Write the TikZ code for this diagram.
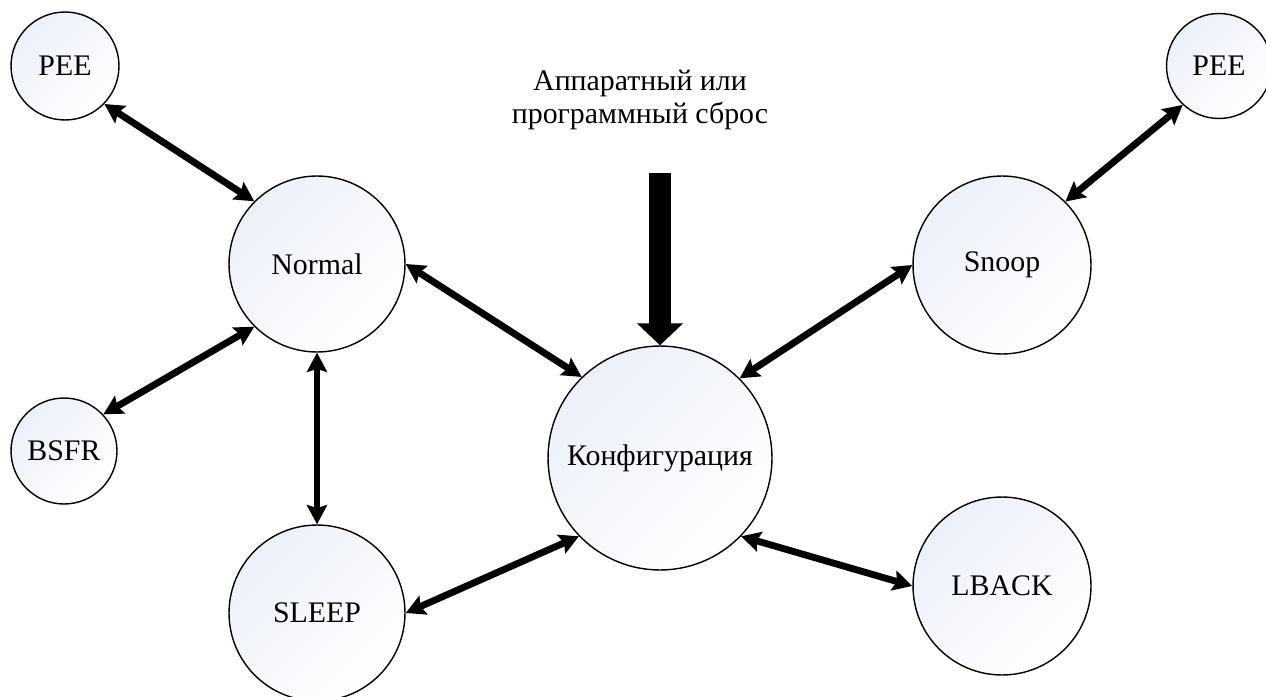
\documentclass[tikz,border=0pt]{standalone}
\usepackage{fontspec}
\setmainfont{Liberation Serif}
\usepackage{tikz}
\usetikzlibrary{arrows.meta}

\definecolor{nodeblue}{RGB}{236,240,249}

\begin{document}
\begin{tikzpicture}[x=0.02cm,y=-0.02cm,
    state/.style={circle,draw,line width=0.8pt,inner sep=0pt,
        top color=nodeblue,bottom color=white,shading angle=45,
        font=\fontsize{17}{19}\selectfont},
    link/.style={line width=3.9pt,
        {Stealth[length=11pt,width=11.5pt,inset=1.8pt]}-{Stealth[length=11pt,width=11.5pt,inset=1.8pt]}},
    reset/.style={line width=12.5pt,-{Triangle[length=12.5pt,width=25.5pt]}}]
            \useasboundingbox (0,0) rectangle (1266,696);

            % states
            \node[state,minimum size=2.16cm] (peeL) at (65,66) {PEE};
            \node[state,minimum size=3.52cm] (normal) at (317,264) {Normal};
            \node[state,minimum size=2.12cm] (bsfr) at (64,451) {BSFR};
            \node[state,minimum size=3.52cm] (sleep) at (317,613) {SLEEP};
            \node[state,minimum size=4.48cm] (config) at (660,458) {Конфигурация};
            \node[state,minimum size=3.56cm] (snoop) at (1002,265) {Snoop};
            \node[state,minimum size=3.56cm] (lback) at (1002,586) {LBACK};
            \node[state,minimum size=2.10cm] (peeR) at (1219,66) {PEE};

            % reset input
            \node[align=center,font=\fontsize{17}{19}\selectfont] (rst) at (640,100)
                {Аппаратный или\\программный сброс};
            \coordinate (rstin) at (660,173);
            \draw[reset] (rstin) -- (config.north);

            % transitions
            \draw[link] (peeL.-44) -- (normal.135);
            \draw[link] (bsfr.43) -- (normal.225);
            \draw[link] (normal.south) -- (sleep.north);
            \draw[link] (normal.east) -- (config.134);
            \draw[link] (snoop.west) -- (config.45);
            \draw[link] (peeR.227) -- (snoop.45);
            \draw[link] (sleep.east) -- (config.224);
            \draw[link] (lback.west) -- (config.316);
        \end{tikzpicture}
\end{document}
